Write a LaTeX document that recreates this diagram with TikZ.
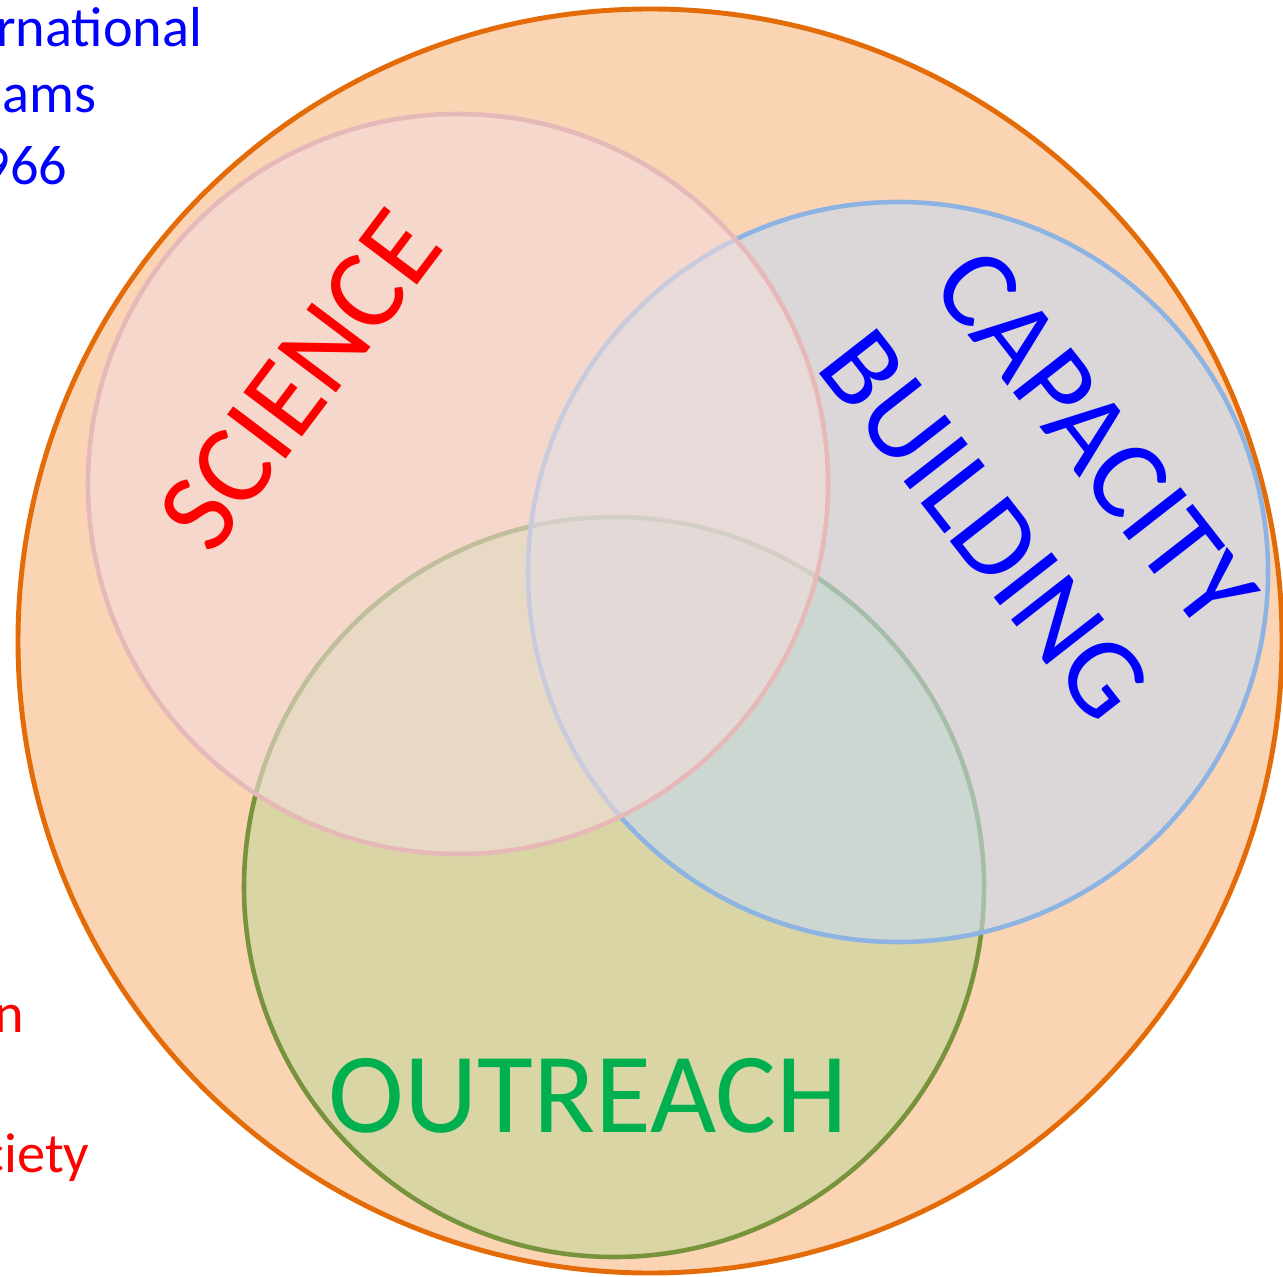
\documentclass[tikz,border=0pt]{standalone}
\usepackage{fontspec}
\setmainfont{Carlito}
\usepackage{tikz}

\definecolor{ringorange}{RGB}{227,108,9}
\definecolor{ringfill}{RGB}{251,212,180}
\definecolor{sciline}{RGB}{230,185,184}
\definecolor{scifill}{RGB}{242,220,219}
\definecolor{capline}{RGB}{141,179,226}
\definecolor{capfill}{RGB}{198,217,241}
\definecolor{outline}{RGB}{119,147,60}
\definecolor{outfill}{RGB}{195,214,155}
\definecolor{outgreen}{RGB}{0,176,80}

\begin{document}
\begin{tikzpicture}[x=0.01cm,y=-0.01cm,
    bigtext/.style={font=\fontsize{32.5}{40}\selectfont, inner sep=0pt},
    sidetext/.style={font=\fontsize{16}{19}\selectfont, inner sep=0pt, anchor=base east},
    set/.style={line width=1.3pt, fill opacity=0.6}]

    \useasboundingbox (0,0) rectangle (1283,1277);

    \draw[line width=1.4pt, draw=ringorange, fill=ringfill] (650,641) circle (632);

    \draw[set, draw=outline, fill=outfill] (614,887) circle (370);
    \draw[set, draw=capline, fill=capfill] (898,572) circle (370);
    \draw[set, draw=sciline, fill=scifill] (458,484) circle (370);

    \node (science) [bigtext, text=red, rotate=53] at (300,380) {SCIENCE};
    \node (capacity) [bigtext, text=blue, rotate=-52, align=center] at (1040,482) {CAPACITY\\BUILDING};
    \node (outreach) [bigtext, text=outgreen] at (588,1096) {OUTREACH};

    \node (intl) [sidetext, text=blue] at (203,47) {rnational};
    \node (progs) [sidetext, text=blue] at (97,113) {ams};
    \node (year) [sidetext, text=blue] at (68,185) {966};
    \node (redn) [sidetext, text=red] at (25,1032) {n};
    \node (society) [sidetext, text=red] at (90,1172) {ciety};
    \end{tikzpicture}
\end{document}
